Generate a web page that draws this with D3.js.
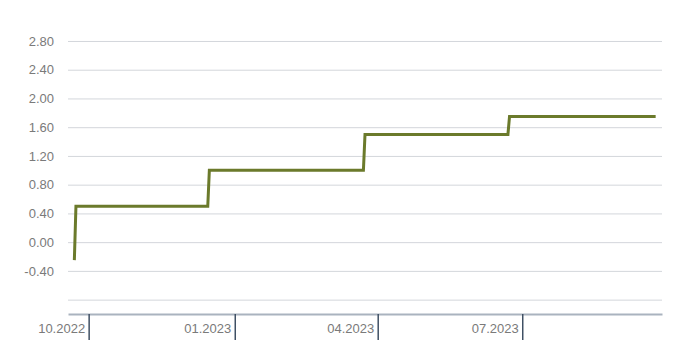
<!DOCTYPE html>
<html>
<head>
<meta charset="utf-8">
<script src="https://cdn.jsdelivr.net/npm/d3@7"></script>
<style>
  body { margin: 0; background: #fff; }
  text { font-family: "Liberation Sans", Arial, sans-serif; }
</style>
</head>
<body>
<svg id="chart" width="680" height="362"></svg>
<script>
// policy rate, step changes
var dates = ['2022-09-22', '2022-09-23', '2022-12-15', '2022-12-16', '2023-03-23', '2023-03-24',
             '2023-06-22', '2023-06-23', '2023-09-23'];
var rates = [-0.25, 0.50, 0.50, 1.00, 1.00, 1.50, 1.50, 1.75, 1.75];

var gridValues = [-0.8, -0.4, 0, 0.4, 0.8, 1.2, 1.6, 2.0, 2.4, 2.8];
var yLabels = ['', '-0.40', '0.00', '0.40', '0.80', '1.20', '1.60', '2.00', '2.40', '2.80'];

var xTickDates = ['2022-10-01', '2023-01-01', '2023-04-01', '2023-07-01'];
var xTickLabels = ['10.2022', '01.2023', '04.2023', '07.2023'];

var parse = d3.timeParse('%Y-%m-%d');
var data = dates.map(function (d, i) { return { date: parse(d), rate: rates[i] }; });

var svg = d3.select('#chart'),
    MARGINS = { top: 26.6, right: 18, bottom: 48, left: 68 },
    WIDTH = 680,
    HEIGHT = 362;

var xScale = d3.scaleTime()
    .domain([parse('2022-09-18'), parse('2023-09-27')])
    .range([MARGINS.left, WIDTH - MARGINS.right]);

var yScale = d3.scaleLinear()
    .domain([-1.0, 3.0])
    .range([HEIGHT - MARGINS.bottom, MARGINS.top]);

// grid + y labels
var yAxis = d3.axisLeft(yScale)
    .tickValues(gridValues)
    .tickSize(-(WIDTH - MARGINS.left - MARGINS.right))
    .tickPadding(14)
    .tickFormat(function (d, i) { return yLabels[i]; });

var gy = svg.append('g')
    .attr('transform', 'translate(' + MARGINS.left + ',0)')
    .call(yAxis);
gy.select('.domain').remove();
gy.selectAll('line').attr('stroke', '#d3d6db').attr('stroke-width', 1);
gy.selectAll('text').attr('fill', '#7a7a7a').style('font-size', '13px');

// bottom axis
var xAxis = d3.axisBottom(xScale)
    .tickValues(xTickDates.map(parse))
    .tickSize(26)
    .tickSizeOuter(0)
    .tickFormat(function (d, i) { return xTickLabels[i]; });

var gx = svg.append('g')
    .attr('transform', 'translate(0,' + (HEIGHT - MARGINS.bottom) + ')')
    .call(xAxis);
gx.select('.domain').attr('stroke', '#aab3bf').attr('stroke-width', 2);
gx.selectAll('.tick line').attr('stroke', '#3f5064').attr('stroke-width', 1.5);
gx.selectAll('.tick text')
    .attr('fill', '#7a7a7a')
    .style('font-size', '13px')
    .attr('text-anchor', 'end')
    .attr('x', -4)
    .attr('y', 10)
    .attr('dy', '0.71em');

var lineGen = d3.line()
    .x(function (d) { return xScale(d.date); })
    .y(function (d) { return yScale(d.rate); });

svg.append('path')
    .attr('d', lineGen(data))
    .attr('stroke', '#6b7a2b')
    .attr('stroke-width', 3)
    .attr('stroke-linejoin', 'miter')
    .attr('fill', 'none');
</script>
</body>
</html>
